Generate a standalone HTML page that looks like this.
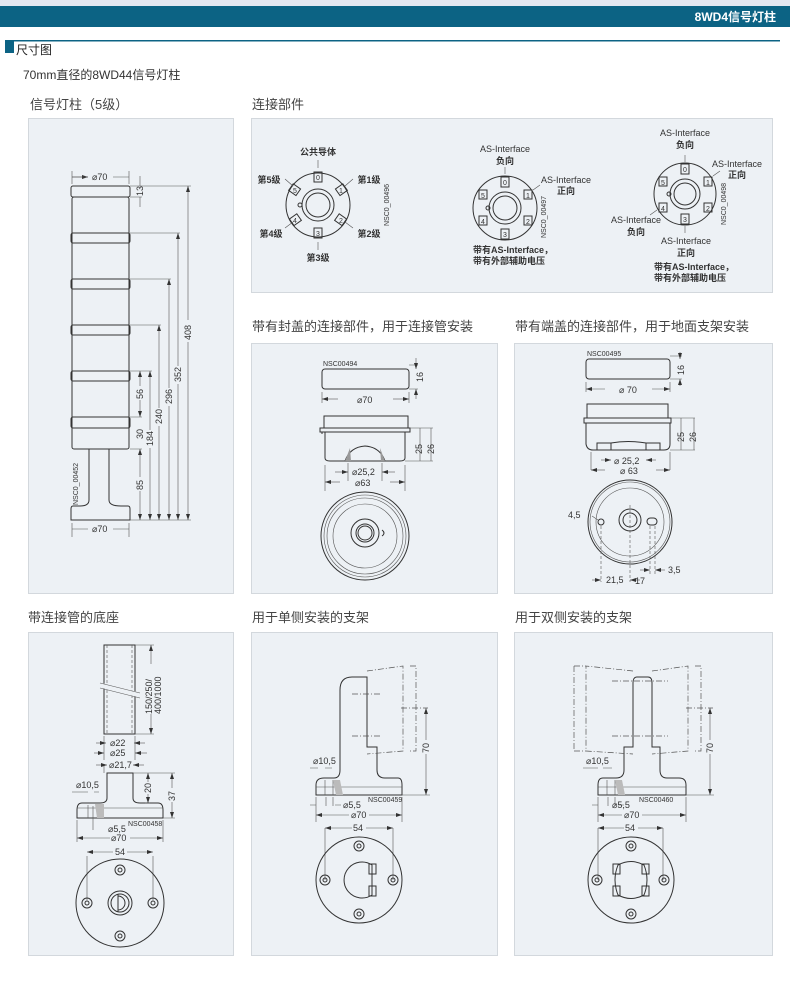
<!DOCTYPE html>
<html><head><meta charset="utf-8"><style>
body{margin:0;width:790px;height:984px;background:#fff;overflow:hidden}
svg{display:block}
text{font-family:"Liberation Sans","Noto Sans CJK SC",sans-serif;fill:#333}
.d{font-size:9px}
.s{font-size:7px}
.t{font-size:13px;fill:#444}
.l{fill:none;stroke:#333;stroke-width:1}
.th{fill:none;stroke:#555;stroke-width:.6}
.da{fill:none;stroke:#555;stroke-width:.7;stroke-dasharray:6 2 1 2}
.p{fill:#edf1f5;stroke:#d3d8dd;stroke-width:1}
.b{font-weight:bold;font-size:9px}
</style></head><body>
<svg width="790" height="984" viewBox="0 0 790 984" xmlns="http://www.w3.org/2000/svg">
<defs><marker id="a" markerWidth="6" markerHeight="6" refX="6" refY="3" orient="auto-start-reverse" markerUnits="userSpaceOnUse"><path d="M0,1 L6,3 L0,5z" fill="#333"/></marker></defs>
<rect x="0" y="0" width="790" height="6" fill="#e4e8f1"/>
<rect x="0" y="6" width="790" height="21" fill="#0c6384"/>
<text x="776" y="21" text-anchor="end" style="font-size:12px;font-weight:bold;fill:#fff">8WD4信号灯柱</text>
<rect x="5" y="40" width="9" height="13" fill="#0c6384"/>
<rect x="8" y="40" width="772" height="1.5" fill="#0c6384"/>
<text x="16" y="54" style="font-size:12px;fill:#222">尺寸图</text>
<text x="23" y="79" style="font-size:12px;fill:#333">70mm直径的8WD44信号灯柱</text>
<text x="30" y="109" class="t">信号灯柱（5级）</text>
<text x="252" y="109" class="t">连接部件</text>
<text x="252" y="331" class="t">带有封盖的连接部件，用于连接管安装</text>
<text x="515" y="331" class="t">带有端盖的连接部件，用于地面支架安装</text>
<text x="28" y="622" class="t">带连接管的底座</text>
<text x="252" y="622" class="t">用于单侧安装的支架</text>
<text x="515" y="622" class="t">用于双侧安装的支架</text>

<rect class="p" x="28.5" y="118.5" width="205" height="475"/>
<rect class="p" x="251.5" y="118.5" width="521" height="174"/>
<rect class="p" x="251.5" y="343.5" width="246" height="250"/>
<rect class="p" x="514.5" y="343.5" width="258" height="250"/>
<rect class="p" x="28.5" y="632.5" width="205" height="323"/>
<rect class="p" x="251.5" y="632.5" width="246" height="323"/>
<rect class="p" x="514.5" y="632.5" width="258" height="323"/>

<!-- panel1 column -->
<g>
<rect class="l" x="71" y="186" width="59" height="11" rx="2" fill="#edf1f5"/>
<rect class="l" x="72" y="197" width="57" height="252" rx="2"/>
<rect class="l" x="71" y="233" width="59" height="10" rx="2" fill="#edf1f5"/>
<rect class="l" x="71" y="279" width="59" height="10" rx="2" fill="#edf1f5"/>
<rect class="l" x="71" y="325" width="59" height="10" rx="2" fill="#edf1f5"/>
<rect class="l" x="71" y="371" width="59" height="10" rx="2" fill="#edf1f5"/>
<rect class="l" x="71" y="417" width="59" height="11" rx="2" fill="#edf1f5"/>
<path class="l" d="M89,449 V500 Q89,506 80,506 H73 Q71,506 71,509 V520 H130 V509 Q130,506 128,506 H121 Q109,506 109,500 V449"/>
<g class="th">
<path d="M130,186 H191 M130,233 H180 M130,279 H171 M130,325 H161 M130,371 H152 M130,449 H142 M130,520 H191 M72,171 V184 M129,171 V184 M72,523 V537 M129,523 V537 M130,197 H142 M130,417 H142"/>
</g>
<g class="th" marker-start="url(#a)" marker-end="url(#a)">
<line x1="72" y1="177" x2="88" y2="177" marker-start="none"/>
<line x1="188" y1="186" x2="188" y2="520"/>
<line x1="178" y1="233" x2="178" y2="520"/>
<line x1="169" y1="279" x2="169" y2="520"/>
<line x1="159" y1="325" x2="159" y2="520"/>
<line x1="150" y1="371" x2="150" y2="520"/>
<line x1="140" y1="371" x2="140" y2="417"/>
<line x1="140" y1="449" x2="140" y2="520"/>
</g>
<path class="th" d="M72,177 H88 M113,177 H129 M72,529 H88 M113,529 H129 M140,176 V186 M140,197 V207" />
<text class="d" x="92" y="180">⌀70</text>
<text class="d" x="92" y="532">⌀70</text>
<g class="d">
<rect x="184" y="320" width="8" height="22" fill="#edf1f5"/><text transform="translate(191,340) rotate(-90)">408</text>
<rect x="174" y="366" width="8" height="18" fill="#edf1f5"/><text transform="translate(181,382) rotate(-90)">352</text>
<rect x="165" y="388" width="8" height="18" fill="#edf1f5"/><text transform="translate(172,404) rotate(-90)">296</text>
<rect x="155" y="408" width="8" height="18" fill="#edf1f5"/><text transform="translate(162,424) rotate(-90)">240</text>
<rect x="146" y="430" width="8" height="18" fill="#edf1f5"/><text transform="translate(153,446) rotate(-90)">184</text>
<rect x="136" y="386" width="8" height="14" fill="#edf1f5"/><text transform="translate(143,399) rotate(-90)">56</text>
<rect x="136" y="426" width="8" height="14" fill="#edf1f5"/><text transform="translate(143,439) rotate(-90)">30</text>
<rect x="136" y="477" width="8" height="14" fill="#edf1f5"/><text transform="translate(143,490) rotate(-90)">85</text>
<text transform="translate(143,196) rotate(-90)">13</text>
</g>
<text class="s" transform="translate(78,505) rotate(-90)">NSC0_00452</text>
</g>

<!-- panel2 connectors -->
<g>
<circle class="l" cx="318" cy="205" r="32"/><circle class="l" cx="318" cy="205" r="16"/><circle class="l" cx="318" cy="205" r="12"/><circle class="l" cx="300" cy="205" r="2"/>
<rect class="l" x="314" y="172" width="8" height="10"/><text class="s" x="316" y="180">0</text>
<rect class="l" x="314" y="228" width="8" height="10"/><text class="s" x="316" y="236">3</text>
<rect class="l" x="337" y="185" width="8" height="9" transform="rotate(55 341 190)"/><text class="s" x="339" y="193">1</text>
<rect class="l" x="337" y="215" width="8" height="9" transform="rotate(-55 341 220)"/><text class="s" x="339" y="223">2</text>
<rect class="l" x="291" y="185" width="8" height="9" transform="rotate(-55 295 190)"/><text class="s" x="293" y="193">5</text>
<rect class="l" x="291" y="215" width="8" height="9" transform="rotate(55 295 220)"/><text class="s" x="293" y="223">4</text>
<path class="th" d="M318,160 V168 M318,242 V250 M285,179 L293,186 M345,186 L353,179 M285,228 L293,222 M345,222 L353,228"/>
<text class="b" x="318" y="155" text-anchor="middle">公共导体</text>
<text class="b" x="269" y="183" text-anchor="middle">第5级</text>
<text class="b" x="369" y="183" text-anchor="middle">第1级</text>
<text class="b" x="271" y="237" text-anchor="middle">第4级</text>
<text class="b" x="369" y="237" text-anchor="middle">第2级</text>
<text class="b" x="318" y="261" text-anchor="middle">第3级</text>
<text class="s" transform="translate(389,226) rotate(-90)">NSC0_00496</text>

<circle class="l" cx="505" cy="208" r="32"/><circle class="l" cx="505" cy="208" r="16"/><circle class="l" cx="505" cy="208" r="12"/><circle class="l" cx="488" cy="208" r="2"/>
<rect class="l" x="501" y="177" width="8" height="10"/><text class="s" x="503" y="185">0</text>
<rect class="l" x="501" y="229" width="8" height="10"/><text class="s" x="503" y="237">3</text>
<rect class="l" x="524" y="190" width="8" height="9"/><text class="s" x="526" y="198">1</text>
<rect class="l" x="524" y="216" width="8" height="9"/><text class="s" x="526" y="224">2</text>
<rect class="l" x="479" y="190" width="8" height="9"/><text class="s" x="481" y="198">5</text>
<rect class="l" x="479" y="216" width="8" height="9"/><text class="s" x="481" y="224">4</text>
<path class="th" d="M505,167 V174 M533,190 L540,185"/>
<text class="d" x="505" y="152" text-anchor="middle">AS-Interface</text>
<text class="b" x="505" y="164" text-anchor="middle">负向</text>
<text class="d" x="566" y="183" text-anchor="middle">AS-Interface</text>
<text class="b" x="566" y="194" text-anchor="middle">正向</text>
<text class="s" transform="translate(546,238) rotate(-90)">NSC0_00497</text>
<text class="b" x="473" y="253">带有AS-Interface，</text>
<text class="b" x="473" y="264">带有外部辅助电压</text>

<circle class="l" cx="685" cy="194" r="31"/><circle class="l" cx="685" cy="194" r="15"/><circle class="l" cx="685" cy="194" r="11"/><circle class="l" cx="669" cy="194" r="2"/>
<rect class="l" x="681" y="164" width="8" height="10"/><text class="s" x="683" y="172">0</text>
<rect class="l" x="681" y="214" width="8" height="10"/><text class="s" x="683" y="222">3</text>
<rect class="l" x="704" y="177" width="8" height="9"/><text class="s" x="706" y="185">1</text>
<rect class="l" x="704" y="203" width="8" height="9"/><text class="s" x="706" y="211">2</text>
<rect class="l" x="659" y="177" width="8" height="9"/><text class="s" x="661" y="185">5</text>
<rect class="l" x="659" y="203" width="8" height="9"/><text class="s" x="661" y="211">4</text>
<path class="th" d="M685,155 V162 M685,226 V233 M713,176 L720,171 M657,210 L650,215"/>
<text class="d" x="685" y="136" text-anchor="middle">AS-Interface</text>
<text class="b" x="685" y="148" text-anchor="middle">负向</text>
<text class="d" x="737" y="167" text-anchor="middle">AS-Interface</text>
<text class="b" x="737" y="178" text-anchor="middle">正向</text>
<text class="d" x="636" y="223" text-anchor="middle">AS-Interface</text>
<text class="b" x="636" y="235" text-anchor="middle">负向</text>
<text class="d" x="686" y="244" text-anchor="middle">AS-Interface</text>
<text class="b" x="686" y="256" text-anchor="middle">正向</text>
<text class="s" transform="translate(726,225) rotate(-90)">NSC0_00498</text>
<text class="b" x="654" y="270">带有AS-Interface，</text>
<text class="b" x="654" y="281">带有外部辅助电压</text>
</g>

<!-- panel3 -->
<g>
<text class="s" x="323" y="366">NSC00494</text>
<rect class="l" x="322" y="369" width="87" height="20" rx="3"/>
<path class="l" d="M324,428 V416 H408 V428 M320,428 H410 V432 H320Z M322,432 V434 M325,432 V458 Q325,461 330,461 H400 Q405,461 405,458 V432"/>
<path class="l" d="M345,461 Q350,447 365,446 Q380,447 385,461"/>
<path d="M345,461 L350,448 L351,461Z M381,461 L380,448 L385,461Z" fill="#999"/>
<path class="th" d="M409,365 H418 M409,389 H418 M322,392 V403 M409,392 V403 M410,428 H433 M405,461 H433 M325,465 V491 M405,465 V491 M348,463 V481 M382,463 V481"/>
<g class="th" marker-end="url(#a)"><line x1="416" y1="358" x2="416" y2="369"/><line x1="416" y1="399" x2="416" y2="389"/>
<line x1="338" y1="399" x2="322" y2="399"/><line x1="393" y1="399" x2="409" y2="399"/>
<line x1="335" y1="472" x2="348" y2="472"/><line x1="395" y1="472" x2="382" y2="472"/>
<line x1="340" y1="482" x2="325" y2="482"/><line x1="390" y1="482" x2="405" y2="482"/></g>
<path class="th" d="M420,428 V461 M431,428 V461"/>
<text class="d" x="357" y="403">⌀70</text>
<text class="d" transform="translate(423,382) rotate(-90)">16</text>
<text class="d" transform="translate(422,454) rotate(-90)">25</text>
<text class="d" transform="translate(434,454) rotate(-90)">26</text>
<text class="d" x="352" y="475">⌀25,2</text>
<text class="d" x="355" y="486">⌀63</text>
<circle class="l" cx="365" cy="536" r="44"/><circle class="th" cx="365" cy="536" r="41"/><circle class="th" cx="365" cy="536" r="38"/><circle class="th" cx="365" cy="536" r="32"/>
<circle class="l" cx="365" cy="533" r="14"/><circle class="l" cx="365" cy="533" r="9"/><circle class="l" cx="365" cy="533" r="7"/>
<path class="l" d="M382,530 Q386,533 382,536"/>
</g>

<!-- panel4 -->
<g>
<text class="s" x="587" y="356">NSC00495</text>
<rect class="l" x="586" y="359" width="84" height="20" rx="3"/>
<path class="l" d="M587,418 V404 H668 V418 M584,418 H671 V423 H584Z M586,423 V444 Q587,450 593,450 H664 Q670,450 670,444 V423"/>
<path class="l" d="M597,450 V443 H611 V450 M646,450 V443 H660 V450 M611,443 Q628,440 646,443"/>
<path class="th" d="M670,356 H682 M670,379 H682 M586,382 V392 M670,382 V392 M671,418 H695 M670,450 H695 M591,452 V470 M670,452 V470"/>
<g class="th" marker-end="url(#a)"><line x1="680" y1="352" x2="680" y2="359"/><line x1="680" y1="386" x2="680" y2="379"/>
<line x1="605" y1="389" x2="586" y2="389"/><line x1="652" y1="389" x2="670" y2="389"/>
<line x1="601" y1="460" x2="611" y2="460"/><line x1="656" y1="460" x2="646" y2="460"/>
<line x1="605" y1="470" x2="591" y2="470"/><line x1="656" y1="470" x2="670" y2="470"/></g>
<path class="th" d="M681,418 V450 M694,418 V450"/>
<text class="d" x="619" y="393">⌀ 70</text>
<text class="d" transform="translate(684,375) rotate(-90)">16</text>
<text class="d" transform="translate(684,442) rotate(-90)">25</text>
<text class="d" transform="translate(696,442) rotate(-90)">26</text>
<text class="d" x="614" y="464">⌀ 25,2</text>
<text class="d" x="620" y="474">⌀ 63</text>
<circle class="l" cx="630" cy="522" r="42"/><circle class="th" cx="630" cy="522" r="40"/><circle class="th" cx="630" cy="522" r="34"/>
<circle class="l" cx="630" cy="520" r="11"/><circle class="l" cx="630" cy="520" r="7"/>
<circle class="l" cx="601" cy="522" r="3"/><rect class="l" x="647" y="518" width="10" height="7" rx="3.5"/>
<path class="th" d="M630,505 V582 M601,526 V582 M650,526 V574 M655,526 V574" stroke-dasharray="3 2"/>
<path class="th" d="M592,516 L598,520"/>
<text class="d" x="568" y="518">4,5</text>
<g class="th" marker-end="url(#a)"><line x1="592" y1="580" x2="601" y2="580"/><line x1="640" y1="580" x2="630" y2="580"/><line x1="640" y1="570" x2="650" y2="570"/><line x1="665" y1="570" x2="655" y2="570"/></g>
<text class="d" x="606" y="583">21,5</text>
<text class="d" x="635" y="584">17</text>
<text class="d" x="668" y="573">3,5</text>
</g>

<!-- panel5 -->
<g>
<rect class="l" x="104" y="645" width="31" height="89"/>
<path class="th" d="M107,645 V734 M132,645 V734" stroke-dasharray="3 2"/>
<path d="M100,685 L140,695" stroke="#edf1f5" stroke-width="5"/>
<path class="th" d="M100,683 L140,693 M100,688 L140,698"/>
<path class="th" d="M135,645 H154 M135,734 H154 M104,736 V760 M135,736 V760 M104,773 V764"/>
<line class="th" x1="151" y1="645" x2="151" y2="734" marker-start="url(#a)" marker-end="url(#a)"/>
<rect x="147" y="664" width="10" height="50" fill="#edf1f5"/>
<text class="d" transform="translate(152,714) rotate(-90)">150/250/</text>
<text class="d" transform="translate(161,714) rotate(-90)">400/1000</text>
<g class="th" marker-end="url(#a)"><line x1="96" y1="743" x2="106" y2="743"/><line x1="145" y1="743" x2="134" y2="743"/><line x1="94" y1="753" x2="104" y2="753"/><line x1="147" y1="753" x2="135" y2="753"/><line x1="96" y1="765" x2="107" y2="765"/><line x1="144" y1="765" x2="133" y2="765"/></g>
<text class="d" x="110" y="746">⌀22</text>
<text class="d" x="110" y="756">⌀25</text>
<text class="d" x="109" y="768">⌀21,7</text>
<path class="l" d="M107,773 V798 Q107,803 100,803 H82 Q77,803 77,810 V818 H163 V810 Q163,803 158,803 H140 Q133,803 133,798 V773 Z"/>
<path class="th" d="M77,808 H163 M133,773 H175 M163,818 H175 M145,803 H150 M88,805 V818 M99,805 V818 M93,806 V830"/>
<path d="M95,804 H104 V818 H97Z" fill="#bbb"/>
<g class="th" marker-start="url(#a)" marker-end="url(#a)"><line x1="148" y1="773" x2="148" y2="803"/><line x1="172" y1="773" x2="172" y2="818"/><line x1="77" y1="838" x2="163" y2="838"/><line x1="87" y1="852" x2="153" y2="852"/></g>
<rect x="144" y="782" width="8" height="12" fill="#edf1f5"/><text class="d" transform="translate(151,793) rotate(-90)">20</text>
<rect x="168" y="788" width="8" height="14" fill="#edf1f5"/><text class="d" transform="translate(175,801) rotate(-90)">37</text>
<text class="d" x="76" y="788">⌀10,5</text>
<path class="th" d="M72,792 H88 M94,792 H99 M77,820 V842 M163,820 V842 M87,856 V900 M153,856 V900"/>
<text class="d" x="108" y="832">⌀5,5</text>
<text class="s" x="128" y="826">NSC00458</text>
<rect x="110" y="834" width="20" height="8" fill="#edf1f5"/><text class="d" x="111" y="841">⌀70</text>
<rect x="113" y="848" width="14" height="8" fill="#edf1f5"/><text class="d" x="115" y="855">54</text>
<circle class="l" cx="120" cy="903" r="44"/>
<circle class="l" cx="120" cy="903" r="12"/><circle class="l" cx="120" cy="903" r="9"/>
<path class="l" d="M118,894 V912 M118,896 A7,7 0 1 1 118,910"/>
<g class="l"><circle cx="87" cy="903" r="5"/><circle cx="87" cy="903" r="2"/><circle cx="153" cy="903" r="5"/><circle cx="153" cy="903" r="2"/><circle cx="120" cy="870" r="5"/><circle cx="120" cy="870" r="2"/><circle cx="120" cy="936" r="5"/><circle cx="120" cy="936" r="2"/></g>
</g>

<!-- panel6 -->
<g id="br">
<path class="l" d="M367,747 H377 V770 Q377,778 385,778 H398 Q402,778 402,785 V795 H316 V785 Q316,778 324,778 H334 Q340,778 340,770 V690 Q340,677 352,677 H367 Z"/>
<path class="th" d="M316,787 H402 M325,780 V795 M333,780 V795"/>
<path d="M333,780 H340 L343,795 H336Z" fill="#bbb"/>
<path class="da" d="M367,671 L403,666 V751 L367,754 M410,666 H416 V751 H410"/>
<path class="da" d="M352,694 H380 M352,736 H380 M401,708 H428"/>
<line class="th" x1="426" y1="708" x2="426" y2="795" marker-start="url(#a)" marker-end="url(#a)"/>
<path class="th" d="M402,795 H430"/>
<rect x="421" y="740" width="9" height="14" fill="#edf1f5"/><text class="d" transform="translate(429,753) rotate(-90)">70</text>
<text class="d" x="313" y="764">⌀10,5</text>
<path class="th" d="M310,768 H318 M325,768 H332 M316,797 V822 M402,797 V822 M326,797 V806 M333,797 V806 M310,805 H316 M335,805 H341 M325,828 V880 M393,828 V880"/>
<text class="d" x="343" y="808">⌀5,5</text>
<text class="s" x="368" y="802">NSC00459</text>
<g class="th" marker-start="url(#a)" marker-end="url(#a)"><line x1="316" y1="815" x2="402" y2="815"/><line x1="325" y1="828" x2="393" y2="828"/></g>
<rect x="349" y="811" width="20" height="8" fill="#edf1f5"/><text class="d" x="351" y="818">⌀70</text>
<rect x="352" y="824" width="14" height="8" fill="#edf1f5"/><text class="d" x="353" y="831">54</text>
<circle class="l" cx="359" cy="880" r="43"/>
<g class="l"><circle cx="325" cy="880" r="5"/><circle cx="325" cy="880" r="2"/><circle cx="393" cy="880" r="5"/><circle cx="393" cy="880" r="2"/><circle cx="359" cy="846" r="5"/><circle cx="359" cy="846" r="2"/><circle cx="359" cy="914" r="5"/><circle cx="359" cy="914" r="2"/></g>
<path class="l" d="M372,865 A18,18 0 1 0 372,895 Z"/>
<rect class="l" x="369" y="864" width="7" height="10"/><rect class="l" x="369" y="886" width="7" height="10"/>
</g>

<!-- panel7 -->
<g>
<path class="l" d="M624,747 V770 Q624,778 616,778 H603 Q598,778 598,785 V795 H686 V785 Q686,778 679,778 H667 Q660,778 660,770 V747 H652 V683 Q652,677 648,677 H637 Q633,677 633,683 V747 Z"/>
<path class="th" d="M598,787 H686 M607,780 V795 M615,780 V795"/>
<path d="M615,780 H622 L625,795 H618Z" fill="#bbb"/>
<path class="da" d="M652,671 L688,666 V751 L652,754 M695,666 H701 V751 H695"/>
<path class="da" d="M633,671 L586,666 V751 L633,754 M574,666 H586 M574,751 H586 M574,666 V751"/>
<path class="da" d="M612,681 H668 M612,736 H668 M686,708 H713"/>
<line class="th" x1="710" y1="708" x2="710" y2="795" marker-start="url(#a)" marker-end="url(#a)"/>
<path class="th" d="M686,795 H714"/>
<rect x="705" y="740" width="9" height="14" fill="#edf1f5"/><text class="d" transform="translate(713,753) rotate(-90)">70</text>
<text class="d" x="586" y="764">⌀10,5</text>
<path class="th" d="M583,768 H598 M603,768 H612 M598,797 V822 M686,797 V822 M608,797 V806 M615,797 V806 M592,805 H598 M618,805 H624 M598,828 V880 M663,828 V880"/>
<text class="d" x="612" y="808">⌀5,5</text>
<text class="s" x="639" y="802">NSC00460</text>
<g class="th" marker-start="url(#a)" marker-end="url(#a)"><line x1="598" y1="815" x2="686" y2="815"/><line x1="598" y1="828" x2="663" y2="828"/></g>
<rect x="622" y="811" width="20" height="8" fill="#edf1f5"/><text class="d" x="624" y="818">⌀70</text>
<rect x="624" y="824" width="14" height="8" fill="#edf1f5"/><text class="d" x="625" y="831">54</text>
<circle class="l" cx="631" cy="880" r="43"/>
<g class="l"><circle cx="597" cy="880" r="5"/><circle cx="597" cy="880" r="2"/><circle cx="664" cy="880" r="5"/><circle cx="664" cy="880" r="2"/><circle cx="631" cy="846" r="5"/><circle cx="631" cy="846" r="2"/><circle cx="631" cy="914" r="5"/><circle cx="631" cy="914" r="2"/></g>
<path class="l" d="M618,865 Q631,858 644,865 Q650,880 644,895 Q631,902 618,895 Q612,880 618,865Z"/>
<rect class="l" x="613" y="864" width="7" height="10"/><rect class="l" x="613" y="886" width="7" height="10"/>
<rect class="l" x="642" y="864" width="7" height="10"/><rect class="l" x="642" y="886" width="7" height="10"/>
</g>
</svg>
</body></html>
